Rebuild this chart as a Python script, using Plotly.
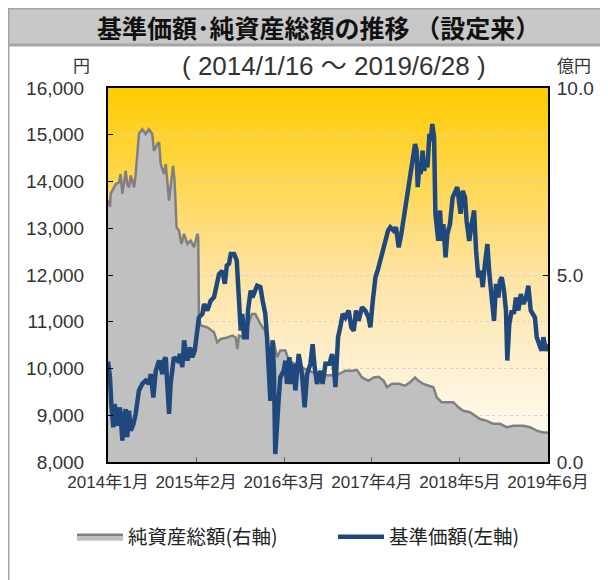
import base64
import pandas as pd
import plotly.graph_objects as go

# ---------------- data ----------------
launch_date = "2014-01-16"
end_date = "2019-06-28"

# 純資産総額 (億円): elapsed days since launch, value
nav_days = [0, 9, 12, 35, 50, 57, 65, 80, 87, 95, 103, 118, 125, 133, 140, 155, 170, 185, 200, 208,
            223, 231, 238, 253, 261, 276, 283, 294, 301, 310, 321, 332, 344, 359, 374, 389, 404, 408,
            411, 419, 449, 479, 494, 509, 540, 562, 577, 585, 592, 615, 645, 651, 666, 689, 711, 726,
            749, 764, 779, 802, 817, 847, 877, 907, 952, 998, 1043, 1073, 1103, 1126, 1148, 1178,
            1201, 1224, 1246, 1261, 1284, 1314, 1343, 1365, 1388, 1403, 1425, 1456, 1471, 1486, 1508,
            1531, 1561, 1584, 1606, 1636, 1659, 1682, 1712, 1742, 1772, 1802, 1832, 1878, 1908, 1938,
            1968, 1989]
nav_oku = [7.00, 6.82, 7.17, 7.43, 7.48, 7.70, 7.17, 7.79, 7.43, 7.34, 7.66, 7.34, 7.70, 8.32, 8.77,
           8.90, 8.77, 8.90, 8.77, 8.32, 8.50, 8.55, 7.97, 7.70, 7.97, 6.99, 7.43, 7.92, 7.52, 6.27,
           6.19, 5.83, 6.10, 5.83, 5.92, 5.74, 6.10, 6.00, 3.87, 3.65, 3.60, 3.47, 3.20, 3.29, 3.33,
           3.38, 3.33, 3.02, 3.38, 3.33, 3.87, 3.96, 3.96, 3.69, 3.51, 2.98, 3.24, 2.80, 2.98, 2.98,
           2.71, 2.62, 2.53, 2.44, 2.35, 2.31, 2.35, 2.44, 2.44, 2.46, 2.26, 2.17, 2.26, 2.28, 2.17,
           2.00, 2.09, 2.09, 2.04, 2.13, 2.26, 2.17, 2.09, 2.04, 2.00, 1.73, 1.60, 1.60, 1.60, 1.46,
           1.37, 1.33, 1.24, 1.15, 1.10, 1.02, 1.02, 0.93, 0.97, 0.97, 0.93, 0.84, 0.79, 0.79]

# 基準価額 (円): elapsed days since launch, value
price_days = [0, 9, 15, 24, 30, 39, 45, 54, 65, 72, 80, 87, 95, 103, 115, 125, 140, 155, 170, 185,
              193, 205, 216, 231, 246, 253, 261, 268, 276, 283, 298, 314, 326, 336, 344, 351, 359,
              371, 381, 392, 401, 411, 427, 434, 449, 464, 479, 494, 502, 517, 528, 537, 547, 555,
              570, 582, 592, 600, 607, 615, 627, 633, 645, 653, 674, 689, 699, 711, 719, 726, 734,
              744, 750, 756, 764, 772, 779, 794, 802, 809, 820, 829, 839, 847, 862, 877, 889, 900,
              915, 925, 934, 945, 960, 970, 983, 1001, 1013, 1020, 1028, 1040, 1050, 1061, 1073,
              1088, 1100, 1111, 1121, 1133, 1148, 1163, 1178, 1186, 1197, 1209, 1221, 1231, 1242,
              1254, 1266, 1276, 1291, 1302, 1314, 1326, 1338, 1350, 1362, 1373, 1380, 1388, 1395,
              1400, 1407, 1413, 1422, 1429, 1438, 1444, 1453, 1459, 1466, 1474, 1480, 1486, 1493,
              1501, 1508, 1516, 1526, 1534, 1546, 1558, 1569, 1579, 1588, 1594, 1603, 1614, 1621,
              1633, 1644, 1655, 1664, 1674, 1685, 1694, 1704, 1715, 1724, 1734, 1745, 1754, 1765,
              1772, 1780, 1790, 1799, 1805, 1814, 1825, 1835, 1844, 1855, 1866, 1878, 1890, 1900,
              1911, 1920, 1930, 1938, 1950, 1960, 1968, 1980, 1989]
price_yen = [10150, 9810, 9240, 8740, 9240, 8960, 8780, 9170, 8460, 8960, 9130, 8530, 9100, 8670,
             8810, 9030, 9530, 9670, 9740, 9670, 9880, 9380, 9950, 10170, 9880, 10170, 10240, 9670,
             9030, 9670, 10240, 10170, 10310, 10030, 10600, 10380, 10170, 10450, 10240, 10380,
             10810, 11090, 11170, 11380, 11240, 11450, 11520, 11810, 12020, 12090, 11810, 12200,
             12240, 12450, 12450, 12310, 11520, 10810, 11170, 10670, 10670, 11240, 11670, 11520,
             11770, 11740, 11450, 11170, 10670, 10170, 9310, 10600, 9950, 8170, 8960, 9380, 9810,
             9950, 10170, 9670, 10240, 9670, 10100, 9530, 10310, 9880, 9170, 9880, 10100, 10520,
             10030, 9670, 9950, 9670, 10100, 10100, 10310, 10100, 9600, 10670, 10880, 11170, 11090,
             11240, 10880, 10810, 11240, 11020, 11310, 11240, 11090, 10880, 11450, 11950, 12130,
             12310, 12590, 12810, 12950, 13020, 12950, 13020, 12590, 12880, 13230, 13660, 13950,
             14230, 14450, 14800, 14660, 13880, 14300, 14160, 14660, 14230, 14450, 14300, 15020,
             14870, 15230, 14950, 13310, 13090, 12730, 13380, 12730, 13090, 12380, 12880, 13090,
             13660, 13800, 13880, 13520, 13310, 13800, 13660, 13160, 12730, 13090, 13380, 12520,
             11950, 12090, 11740, 12240, 12660, 12020, 11590, 11020, 11810, 11520, 11880, 11950,
             11670, 11240, 10170, 10950, 11240, 11170, 11520, 11240, 11590, 11380, 11520, 11770,
             11240, 11170, 11090, 10670, 10520, 10380, 10670, 10380, 10520]

tick_days = [0, 398, 796, 1193, 1591, 1989]
tick_labels = ["2014年1月", "2015年2月", "2016年3月", "2017年4月", "2018年5月", "2019年6月"]

left_range = [8000, 16000]
right_ticks = [0, 5, 10]
right_tick_labels = ["0.0", "5.0", "10.0"]
right_range = [0, 10]

nav_name = "純資産総額(右軸)"
price_name = "基準価額(左軸)"

# ---------------- helpers ----------------
t0 = pd.Timestamp(launch_date)
def to_dates(days):
    return [t0 + pd.Timedelta(days=int(d)) for d in days]

nav_dates = to_dates(nav_days)
price_dates = to_dates(price_days)
tick_dates = to_dates(tick_days)

LAT = "Liberation Sans, Arial, Noto Sans CJK JP, sans-serif"
CJK = "Noto Sans CJK JP, sans-serif"

# page has an 8px body margin; positions below are in screen px
OFF = 8
W, H = 608, 580
L, T = 108 - OFF, 88 - OFF
PW, PH = 440, 374
R = W - L - PW
B = H - T - PH
def px(x):
    return (x - OFF - L) / PW
def py(y):
    return (T + PH - (y - OFF)) / PH

svg = ("<svg xmlns='http://www.w3.org/2000/svg' width='10' height='100' preserveAspectRatio='none'>"
       "<defs><linearGradient id='g' x1='0' y1='0' x2='0' y2='1'>"
       "<stop offset='0' stop-color='#FFCC00'/><stop offset='0.5' stop-color='#FEE3A3'/>"
       "<stop offset='1' stop-color='#FFFFFF'/></linearGradient></defs>"
       "<rect width='10' height='100' fill='url(#g)'/></svg>")
svg_uri = "data:image/svg+xml;base64," + base64.b64encode(svg.encode()).decode()

fig = go.Figure()
fig.add_trace(go.Scatter(
    x=nav_dates, y=nav_oku, yaxis="y2", mode="lines", fill="tozeroy",
    fillcolor="#C0C0C0", line=dict(color="#808080", width=2.5), name=nav_name))
fig.add_trace(go.Scatter(
    x=price_dates, y=price_yen, yaxis="y", mode="lines",
    line=dict(color="#1F497D", width=4.5), name=price_name))

fig.update_layout(
    width=W, height=H,
    margin=dict(l=L, r=R, t=T, b=B),
    paper_bgcolor="white", plot_bgcolor="rgba(0,0,0,0)",
    font=dict(family=LAT, color="#333333"),
    showlegend=True,
    legend=dict(orientation="h", x=px(72), y=py(537), yanchor="middle", xanchor="left",
                font=dict(family=CJK, size=19.5, color="#222222"),
                itemwidth=46, entrywidth=200, entrywidthmode="pixels",
                bgcolor="rgba(0,0,0,0)", traceorder="normal"),
    xaxis=dict(type="date", range=[t0, to_dates([1989])[0]], tickvals=tick_dates,
               ticktext=tick_labels, ticks="inside", ticklen=5, tickcolor="#666666",
               showline=True, linecolor="black", linewidth=2, mirror=True,
               showgrid=False, zeroline=False, ticklabelstandoff=4,
               tickfont=dict(family=LAT, size=17, color="#333333")),
    yaxis2=dict(range=right_range, side="right", tickvals=right_ticks,
                ticktext=right_tick_labels, ticks="inside", ticklen=5, tickcolor="black",
                showline=True, linecolor="black", linewidth=2, showgrid=False, zeroline=False,
                ticklabelstandoff=3,
                tickfont=dict(family=LAT, size=19, color="#333333")),
    yaxis=dict(range=left_range, overlaying="y2", side="left", dtick=1000, tickformat=",",
               ticks="inside", ticklen=5,
               tickcolor="black", showline=True, linecolor="black", linewidth=2,
               showgrid=True, gridcolor="#D4D4D4", griddash="dot", gridwidth=1,
               zeroline=False, ticklabelstandoff=18,
               tickfont=dict(family=LAT, size=19, color="#333333")),
    images=[dict(source=svg_uri, xref="paper", yref="paper", x=0, y=1, sizex=1, sizey=1,
                 xanchor="left", yanchor="top", sizing="stretch", layer="below")],
    shapes=[
        dict(type="rect", xref="paper", yref="paper", x0=px(8), x1=px(660), y0=py(640), y1=py(8),
             line=dict(color="#A6A6A6", width=3), fillcolor="rgba(0,0,0,0)", layer="below"),
        dict(type="rect", xref="paper", yref="paper", x0=px(8), x1=px(660), y0=py(45), y1=py(8),
             line=dict(color="#A6A6A6", width=3), fillcolor="#C8C8C8", layer="below"),
    ],
    annotations=[
        dict(text="基準価額･純資産総額の推移 （設定来）", xref="paper", yref="paper",
             x=px(318), y=py(27), showarrow=False, xanchor="center", yanchor="middle",
             font=dict(family=CJK, size=25, color="#111111", weight="bold")),
        dict(text="( 2014/1/16 ～ 2019/6/28 )", xref="paper", yref="paper",
             x=px(334), y=py(66), showarrow=False, xanchor="center", yanchor="middle",
             font=dict(family=LAT, size=26, color="#333333")),
        dict(text="円", xref="paper", yref="paper", x=px(81), y=py(65), showarrow=False,
             xanchor="center", yanchor="middle", font=dict(family=CJK, size=17, color="#333333")),
        dict(text="億円", xref="paper", yref="paper", x=px(574), y=py(65), showarrow=False,
             xanchor="center", yanchor="middle", font=dict(family=CJK, size=17, color="#333333")),
    ],
)

fig.write_html("out.html")
